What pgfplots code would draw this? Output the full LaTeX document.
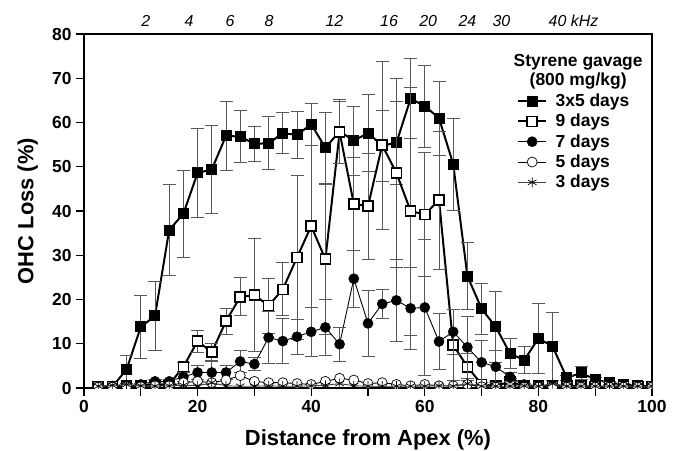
\documentclass[border=0pt]{standalone}
\usepackage{pgfplots}
\pgfplotsset{compat=1.18}
\usepackage{pgfplotstable}
\usepackage{fontspec}
\setmainfont{Liberation Sans}

\pgfplotstableread{
x y e
2.5 0.3 0
5 0.3 0
7.5 4.2 3.2
10 13.8 7.2
12.5 16.3 7.7
15 35.7 10.2
17.5 39.4 9.8
20 48.6 10
22.5 49.4 10
25 57.0 7.8
27.5 56.8 5.9
30 55.2 3.9
32.5 55.3 6
35 57.6 4.6
37.5 57.2 5.2
40 59.6 4.8
42.5 54.3 8
45 58.0 7.2
47.5 55.9 7.8
50 57.6 8.7
52.5 54.8 8
55 55.4 9.3
57.5 65.4 9
60 63.7 9.3
62.5 61.0 8.4
65 50.6 10.4
67.5 25.3 7.5
70 17.9 5.8
72.5 13.8 8
75 7.8 3.4
77.5 6.3 3
80 11.2 8
82.5 9.4 7.6
85 2.3 0.5
87.5 3.4 1.4
90 1.9 0.4
92.5 1.2 0.3
95 0.8 0.2
97.5 0.6 0.2
100 0.3 0
}\threefive

\pgfplotstableread{
x y e
2.5 0.3 0
5 0.3 0
7.5 0.5 0
10 0.5 0
12.5 0.8 0.3
15 0.8 0.3
17.5 4.8 1.0
20 10.6 2.5
22.5 8.1 2
25 15.1 3
27.5 20.6 4.3
30 21.0 12.8
32.5 18.6 6.2
35 22.3 6
37.5 29.5 18.5
40 36.6 18.3
42.5 29.1 17
45 57.8 7
47.5 41.6 10.5
50 41.1 12
52.5 54.9 19
55 48.6 21.4
57.5 40.0 28
60 39.2 14
62.5 42.5 15.6
65 9.7 8
67.5 4.8 3
70 0.8 0.5
72.5 0.5 0.3
75 1.4 0.8
77.5 0.5 0
80 0.5 0
82.5 0.5 0
85 0.5 0
87.5 0.5 0
90 0.3 0
92.5 0.3 0
95 0.3 0
97.5 0.3 0
100 0.3 0
}\nine

\pgfplotstableread{
x y e
2.5 0.3 0
5 0.3 0
7.5 0.5 0
10 0.8 0.3
12.5 1.5 0.5
15 1.5 0.5
17.5 2.5 1
20 3.5 1.5
22.5 3.5 2.7
25 3.5 1.5
27.5 6.0 2.5
30 5.4 1.5
32.5 11.4 5.9
35 10.6 5.1
37.5 11.6 4
40 12.7 5.6
42.5 13.7 6.3
45 9.9 3.8
47.5 24.7 6.5
50 14.6 7.5
52.5 19.0 3.2
55 19.8 9.2
57.5 18.0 9.2
60 18.2 15.3
62.5 10.5 6.4
65 12.7 5
67.5 9.2 7
70 5.8 5
72.5 4.8 3.6
75 2.5 1
77.5 0.8 0.3
80 0.5 0
82.5 0.4 0
85 0.3 0
87.5 0.3 0
90 0.3 0
92.5 0.3 0
95 0.3 0
97.5 0.3 0
100 0.3 0
}\seven

\pgfplotstableread{
x y
2.5 0.2
5 0.2
7.5 0.3
10 0.3
12.5 0.5
15 0.5
17.5 1.2
20 1.5
22.5 1.2
25 1.8
27.5 2.8
30 1.5
32.5 1.2
35 1.2
37.5 1.0
40 0.8
42.5 1.5
45 2.2
47.5 1.8
50 1.0
52.5 1.2
55 0.8
57.5 0.5
60 0.8
62.5 0.5
65 0.5
67.5 0.8
70 0.3
72.5 0.2
75 0.2
77.5 0.2
80 0.2
82.5 0.2
85 0.2
87.5 0.2
90 0.2
92.5 0.2
95 0.2
97.5 0.2
100 0.2
}\five

\pgfplotstableread{
x y
2.5 0.4
5 0.6
7.5 0.8
10 0.5
12.5 0.4
15 0.5
17.5 0.6
20 0.5
22.5 1.2
25 0.5
27.5 0.4
30 0.4
32.5 0.5
35 0.4
37.5 0.4
40 0.5
42.5 0.6
45 1.0
47.5 0.5
50 0.4
52.5 0.4
55 0.4
57.5 0.4
60 0.4
62.5 0.5
65 0.4
67.5 1.0
70 0.4
72.5 0.4
75 0.4
77.5 0.5
80 0.4
82.5 1.0
85 0.4
87.5 0.4
90 0.4
92.5 0.4
95 0.4
97.5 0.4
100 0.4
}\three

\begin{document}
\begin{tikzpicture}
\useasboundingbox (-84bp,-63bp) rectangle (594bp,388bp);
\begin{axis}[
  at={(0,0)}, anchor=south west,
  scale only axis, width=568bp, height=354bp,
  xmin=0, xmax=100, ymin=0, ymax=80,
  xtick={0,10,...,100},
  xticklabels={0,,20,,40,,60,,80,,100},
  ytick={0,10,...,80},
  tick pos=left,
  tick align=outside,
  major tick length=8bp,
  every tick/.style={black, line width=1.2bp},
  axis line style={line width=1.6bp},
  /pgf/number format/assume math mode=true,
  ticklabel style={font=\bfseries\fontsize{17.5}{17.5}\selectfont},
  xticklabel style={yshift=-1bp},
  yticklabel style={xshift=-1bp},
  xlabel={Distance from Apex (\%)},
  ylabel={OHC Loss (\%)},
  every axis x label/.style={at={(axis description cs:0.5,-0.147)}, anchor=center, font=\bfseries\fontsize{22}{22}\selectfont},
  every axis y label/.style={at={(axis description cs:-0.099,0.5)}, rotate=90, anchor=center, font=\bfseries\fontsize{22}{22}\selectfont},
  clip mode=individual,
  clip marker paths=true,
  legend style={at={(axis description cs:0.757,0.841)}, anchor=north west, draw=none, fill=none,
    font=\bfseries\fontsize{17.5}{17.5}\selectfont, row sep=3.2bp,
    nodes={inner sep=1.5bp},
    /tikz/every odd column/.append style={column sep=7bp}},
  legend cell align=left,
  legend image code/.code={\draw[mark repeat=2,mark phase=2,#1] plot coordinates {(0bp,0bp) (14bp,0bp) (28bp,0bp)};},
  error bars/error bar style={line width=0.8bp, black!65},
  error bars/error mark options={rotate=90, mark size=6.5bp, line width=0.8bp, black!65},
]
\addplot[black, line width=2bp, mark=square*, mark size=5bp, mark options={solid, fill=black, line width=1bp},
  error bars/.cd, y dir=both, y explicit]
  table[x=x, y=y, y error=e] {\threefive};
\addlegendentry{3x5 days}
\addplot[black, line width=2bp, mark=square*, mark size=5bp, mark options={solid, fill=white, line width=1.6bp},
  error bars/.cd, y dir=both, y explicit]
  table[x=x, y=y, y error=e] {\nine};
\addlegendentry{9 days}
\addplot[black, line width=0.9bp, mark=*, mark size=5bp, mark options={solid, fill=black, line width=0.6bp},
  error bars/.cd, y dir=both, y explicit]
  table[x=x, y=y, y error=e] {\seven};
\addlegendentry{7 days}
\addplot[black, line width=0.9bp, mark=*, mark size=5bp, mark options={solid, fill=white, line width=0.7bp}]
  table[x=x, y=y] {\five};
\addlegendentry{5 days}
\addplot[black!75, line width=0.9bp, mark=asterisk, mark size=5bp, mark options={solid, black, line width=0.7bp}]
  table[x=x, y=y] {\three};
\addlegendentry{3 days}

\node[align=center, font=\bfseries\fontsize{17.5}{19}\selectfont] at (axis cs:87,71.4) {Styrene gavage\\(800 mg/kg)};

\node[anchor=base, font=\itshape\fontsize{16}{16}\selectfont, yshift=8bp] at (axis cs:10.9,80) {2};
\node[anchor=base, font=\itshape\fontsize{16}{16}\selectfont, yshift=8bp] at (axis cs:18.5,80) {4};
\node[anchor=base, font=\itshape\fontsize{16}{16}\selectfont, yshift=8bp] at (axis cs:25.7,80) {6};
\node[anchor=base, font=\itshape\fontsize{16}{16}\selectfont, yshift=8bp] at (axis cs:32.6,80) {8};
\node[anchor=base, font=\itshape\fontsize{16}{16}\selectfont, yshift=8bp] at (axis cs:44.1,80) {12};
\node[anchor=base, font=\itshape\fontsize{16}{16}\selectfont, yshift=8bp] at (axis cs:53.7,80) {16};
\node[anchor=base, font=\itshape\fontsize{16}{16}\selectfont, yshift=8bp] at (axis cs:60.6,80) {20};
\node[anchor=base, font=\itshape\fontsize{16}{16}\selectfont, yshift=8bp] at (axis cs:67.5,80) {24};
\node[anchor=base, font=\itshape\fontsize{16}{16}\selectfont, yshift=8bp] at (axis cs:73.5,80) {30};
\node[anchor=base west, font=\itshape\fontsize{16}{16}\selectfont, yshift=8bp] at (axis cs:81.2,80) {40 kHz};
\end{axis}
\end{tikzpicture}
\end{document}
